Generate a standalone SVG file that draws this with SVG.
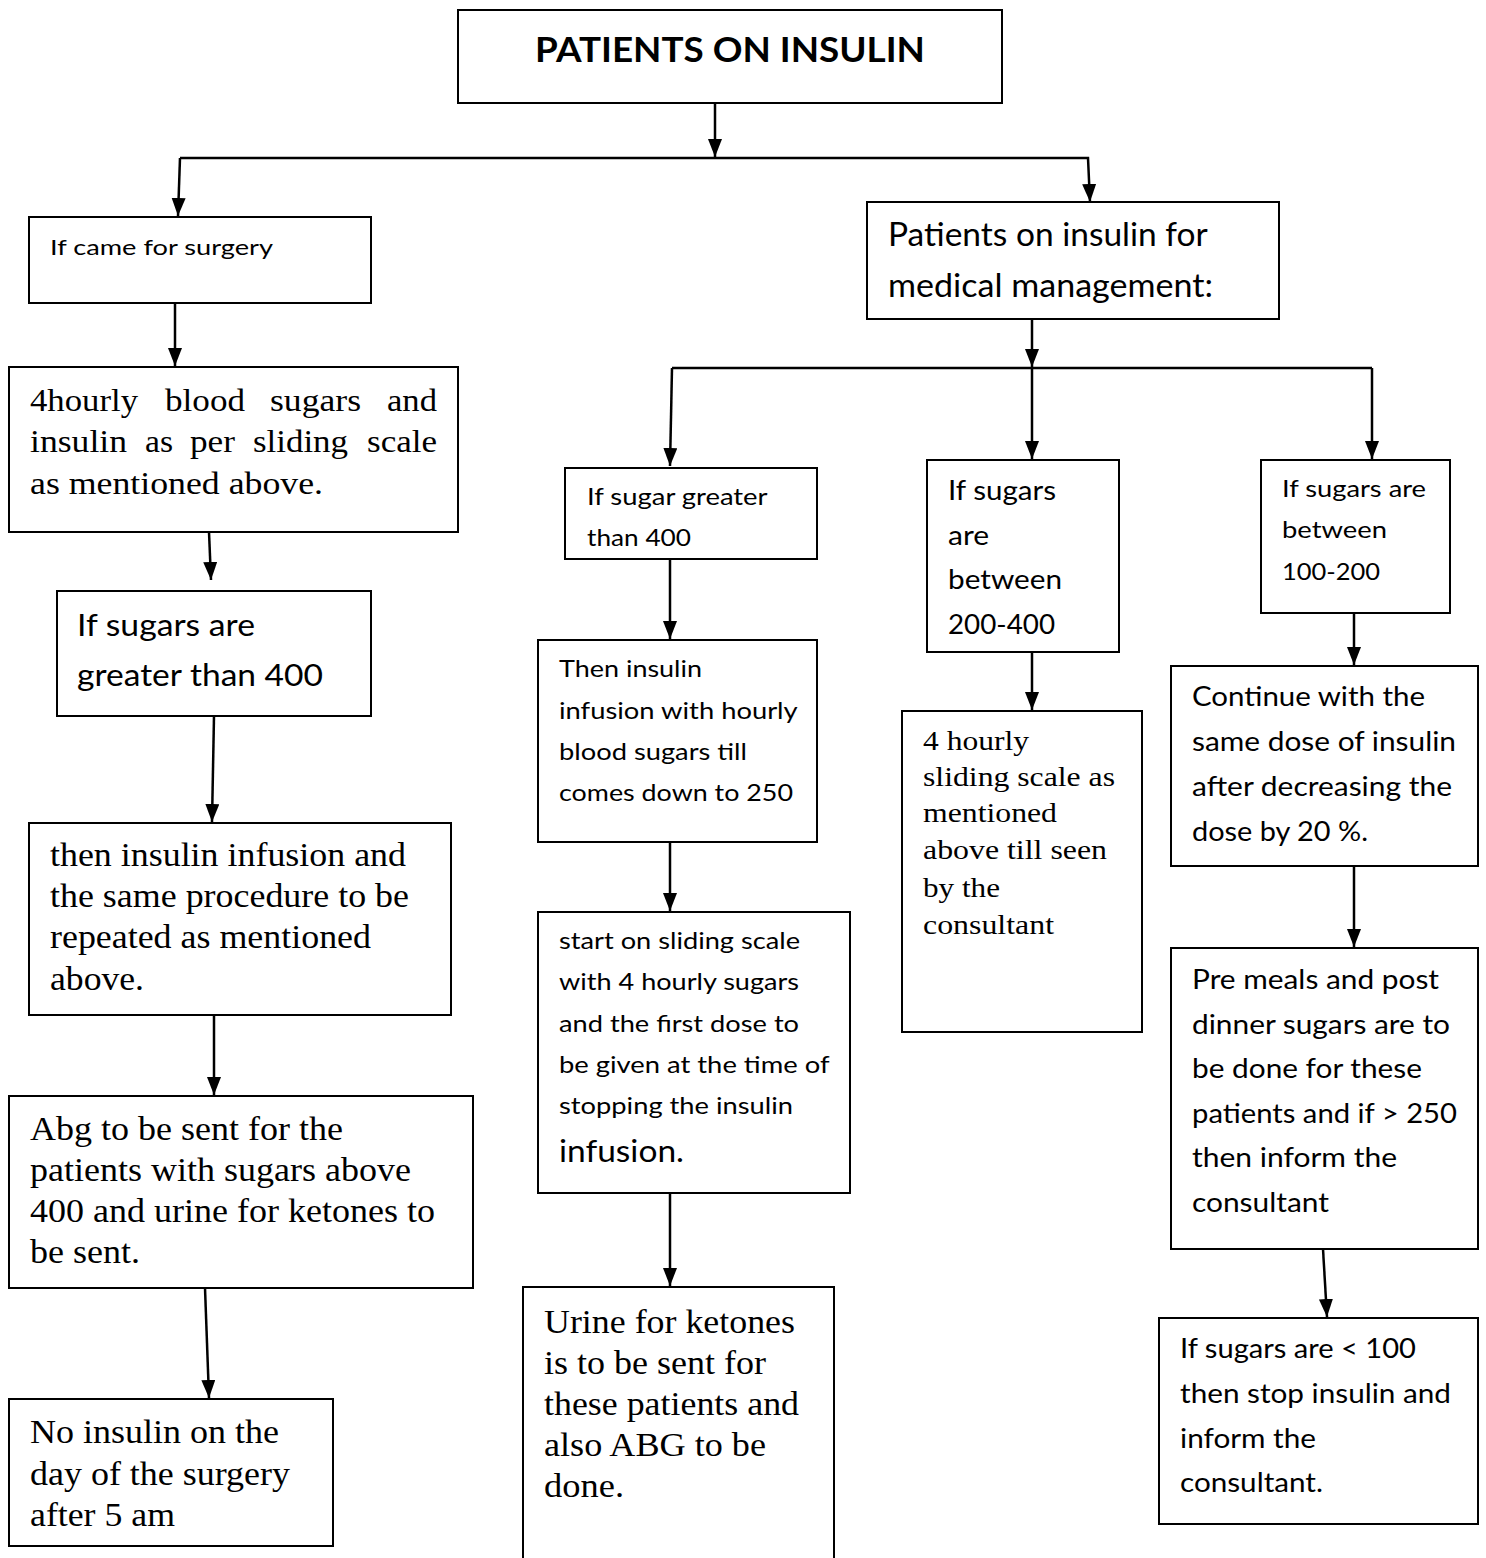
<svg xmlns="http://www.w3.org/2000/svg" width="1486" height="1558" viewBox="0 0 1486 1558">
<style>
.box{fill:#fff;stroke:#000;stroke-width:2}
.c{fill:none;stroke:#000;stroke-width:2.5}
.s{font-family:Lato,"Open Sans","Noto Sans",sans-serif;fill:#000}
.t{font-family:"Liberation Serif","Times New Roman",serif;fill:#000}
</style>
<defs>
<marker id="ah" markerUnits="userSpaceOnUse" markerWidth="20" markerHeight="16" refX="18" refY="7" orient="auto">
<path d="M0,0 L18,7 L0,14 z" fill="#000"/>
</marker>
</defs>
<rect width="1486" height="1558" fill="#fff"/>
<g id="connectors">
<line class="c" x1="715" y1="103" x2="715" y2="157" marker-end="url(#ah)"/>
<polyline class="c" points="180,158 1088,158 1090,202" marker-end="url(#ah)"/>
<line class="c" x1="180" y1="158" x2="178" y2="216" marker-end="url(#ah)"/>
<line class="c" x1="175" y1="303" x2="175" y2="366" marker-end="url(#ah)"/>
<line class="c" x1="209" y1="532" x2="211" y2="580" marker-end="url(#ah)"/>
<line class="c" x1="214" y1="716" x2="212" y2="822" marker-end="url(#ah)"/>
<line class="c" x1="214" y1="1015" x2="214" y2="1095" marker-end="url(#ah)"/>
<line class="c" x1="205" y1="1288" x2="209" y2="1398" marker-end="url(#ah)"/>
<line class="c" x1="1032" y1="319" x2="1032" y2="367" marker-end="url(#ah)"/>
<line class="c" x1="672" y1="368" x2="1372" y2="368"/>
<line class="c" x1="672" y1="368" x2="670" y2="466" marker-end="url(#ah)"/>
<line class="c" x1="1032" y1="368" x2="1032" y2="459" marker-end="url(#ah)"/>
<line class="c" x1="1372" y1="368" x2="1372" y2="459" marker-end="url(#ah)"/>
<line class="c" x1="670" y1="559" x2="670" y2="639" marker-end="url(#ah)"/>
<line class="c" x1="670" y1="842" x2="670" y2="911" marker-end="url(#ah)"/>
<line class="c" x1="670" y1="1193" x2="670" y2="1286" marker-end="url(#ah)"/>
<line class="c" x1="1032" y1="652" x2="1032" y2="710" marker-end="url(#ah)"/>
<line class="c" x1="1354" y1="613" x2="1354" y2="665" marker-end="url(#ah)"/>
<line class="c" x1="1354" y1="866" x2="1354" y2="947" marker-end="url(#ah)"/>
<line class="c" x1="1323" y1="1249" x2="1327" y2="1317" marker-end="url(#ah)"/>
</g>
<g id="n-title">
<rect class="box" x="458" y="10" width="544" height="93"/>
<text class="s" x="535" y="62" font-size="34" font-weight="bold" textLength="390" lengthAdjust="spacingAndGlyphs">PATIENTS ON INSULIN</text>
</g>
<g id="n-surgery">
<rect class="box" x="29" y="217" width="342" height="86"/>
<text class="s" x="50" y="255" font-size="22" textLength="223" lengthAdjust="spacingAndGlyphs">If came for surgery</text>
</g>
<g id="n-4hourly">
<rect class="box" x="9" y="367" width="449" height="165"/>
<text class="t" font-size="32">
<tspan x="30" y="411" textLength="108" lengthAdjust="spacingAndGlyphs">4hourly</tspan>
<tspan x="165" y="411" textLength="80" lengthAdjust="spacingAndGlyphs">blood</tspan>
<tspan x="270" y="411" textLength="91" lengthAdjust="spacingAndGlyphs">sugars</tspan>
<tspan x="387" y="411" textLength="50" lengthAdjust="spacingAndGlyphs">and</tspan>
<tspan x="30" y="452" textLength="97" lengthAdjust="spacingAndGlyphs">insulin</tspan>
<tspan x="145" y="452" textLength="28" lengthAdjust="spacingAndGlyphs">as</tspan>
<tspan x="190" y="452" textLength="45" lengthAdjust="spacingAndGlyphs">per</tspan>
<tspan x="253" y="452" textLength="95" lengthAdjust="spacingAndGlyphs">sliding</tspan>
<tspan x="367" y="452" textLength="70" lengthAdjust="spacingAndGlyphs">scale</tspan>
<tspan x="30" y="494" textLength="293" lengthAdjust="spacingAndGlyphs">as mentioned above.</tspan>
</text>
</g>
<g id="n-gt400-left">
<rect class="box" x="57" y="591" width="314" height="125"/>
<text class="s" font-size="30">
<tspan x="77" y="636" textLength="178" lengthAdjust="spacingAndGlyphs">If sugars are</tspan>
<tspan x="77" y="686" textLength="246" lengthAdjust="spacingAndGlyphs">greater than 400</tspan>
</text>
</g>
<g id="n-infusion-left">
<rect class="box" x="29" y="823" width="422" height="192"/>
<text class="t" font-size="33">
<tspan x="50" y="866" textLength="356" lengthAdjust="spacingAndGlyphs">then insulin infusion and</tspan>
<tspan x="50" y="907" textLength="359" lengthAdjust="spacingAndGlyphs">the same procedure to be</tspan>
<tspan x="50" y="948" textLength="321" lengthAdjust="spacingAndGlyphs">repeated as mentioned</tspan>
<tspan x="50" y="990" textLength="94" lengthAdjust="spacingAndGlyphs">above.</tspan>
</text>
</g>
<g id="n-abg">
<rect class="box" x="9" y="1096" width="464" height="192"/>
<text class="t" font-size="34">
<tspan x="30" y="1140" textLength="313" lengthAdjust="spacingAndGlyphs">Abg to be sent for the</tspan>
<tspan x="30" y="1181" textLength="381" lengthAdjust="spacingAndGlyphs">patients with sugars above</tspan>
<tspan x="30" y="1222" textLength="405" lengthAdjust="spacingAndGlyphs">400 and urine for ketones to</tspan>
<tspan x="30" y="1263" textLength="110" lengthAdjust="spacingAndGlyphs">be sent.</tspan>
</text>
</g>
<g id="n-noinsulin">
<rect class="box" x="9" y="1399" width="324" height="147"/>
<text class="t" font-size="34">
<tspan x="30" y="1443" textLength="249" lengthAdjust="spacingAndGlyphs">No insulin on the</tspan>
<tspan x="30" y="1485" textLength="260" lengthAdjust="spacingAndGlyphs">day of the surgery</tspan>
<tspan x="30" y="1526" textLength="145" lengthAdjust="spacingAndGlyphs">after 5 am</tspan>
</text>
</g>
<g id="n-medical">
<rect class="box" x="867" y="202" width="412" height="117"/>
<text class="s" font-size="32">
<tspan x="888" y="246" textLength="319" lengthAdjust="spacingAndGlyphs">Patients on insulin for</tspan>
<tspan x="888" y="297" textLength="325" lengthAdjust="spacingAndGlyphs">medical management:</tspan>
</text>
</g>
<g id="n-gt400-mid">
<rect class="box" x="565" y="468" width="252" height="91"/>
<text class="s" font-size="24">
<tspan x="587" y="505" textLength="180" lengthAdjust="spacingAndGlyphs">If sugar greater</tspan>
<tspan x="587" y="546" textLength="104" lengthAdjust="spacingAndGlyphs">than 400</tspan>
</text>
</g>
<g id="n-infusion-mid">
<rect class="box" x="538" y="640" width="279" height="202"/>
<text class="s" font-size="24">
<tspan x="559" y="677" textLength="143" lengthAdjust="spacingAndGlyphs">Then insulin</tspan>
<tspan x="559" y="719" textLength="238" lengthAdjust="spacingAndGlyphs">infusion with hourly</tspan>
<tspan x="559" y="760" textLength="188" lengthAdjust="spacingAndGlyphs">blood sugars till</tspan>
<tspan x="559" y="801" textLength="234" lengthAdjust="spacingAndGlyphs">comes down to 250</tspan>
</text>
</g>
<g id="n-sliding-mid">
<rect class="box" x="538" y="912" width="312" height="281"/>
<text class="s" font-size="24">
<tspan x="559" y="949" textLength="241" lengthAdjust="spacingAndGlyphs">start on sliding scale</tspan>
<tspan x="559" y="990" textLength="240" lengthAdjust="spacingAndGlyphs">with 4 hourly sugars</tspan>
<tspan x="559" y="1032" textLength="240" lengthAdjust="spacingAndGlyphs">and the first dose to</tspan>
<tspan x="559" y="1073" textLength="270" lengthAdjust="spacingAndGlyphs">be given at the time of</tspan>
<tspan x="559" y="1114" textLength="234" lengthAdjust="spacingAndGlyphs">stopping the insulin</tspan>
</text>
<text class="s" x="559" y="1162" font-size="31" textLength="125" lengthAdjust="spacingAndGlyphs">infusion.</text>
</g>
<g id="n-urine">
<rect class="box" x="523" y="1287" width="311" height="280"/>
<text class="t" font-size="34">
<tspan x="544" y="1333" textLength="251" lengthAdjust="spacingAndGlyphs">Urine for ketones</tspan>
<tspan x="544" y="1374" textLength="222" lengthAdjust="spacingAndGlyphs">is to be sent for</tspan>
<tspan x="544" y="1415" textLength="255" lengthAdjust="spacingAndGlyphs">these patients and</tspan>
<tspan x="544" y="1456" textLength="222" lengthAdjust="spacingAndGlyphs">also ABG to be</tspan>
<tspan x="544" y="1497" textLength="80" lengthAdjust="spacingAndGlyphs">done.</tspan>
</text>
</g>
<g id="n-200-400">
<rect class="box" x="927" y="460" width="192" height="192"/>
<text class="s" font-size="26">
<tspan x="948" y="500" textLength="108" lengthAdjust="spacingAndGlyphs">If sugars</tspan>
<tspan x="948" y="545" textLength="41" lengthAdjust="spacingAndGlyphs">are</tspan>
<tspan x="948" y="589" textLength="114" lengthAdjust="spacingAndGlyphs">between</tspan>
<tspan x="948" y="634" textLength="107" lengthAdjust="spacingAndGlyphs">200-400</tspan>
</text>
</g>
<g id="n-4hourly-mid">
<rect class="box" x="902" y="711" width="240" height="321"/>
<text class="t" font-size="28">
<tspan x="923" y="750" textLength="106" lengthAdjust="spacingAndGlyphs">4 hourly</tspan>
<tspan x="923" y="786" textLength="192" lengthAdjust="spacingAndGlyphs">sliding scale as</tspan>
<tspan x="923" y="822" textLength="134" lengthAdjust="spacingAndGlyphs">mentioned</tspan>
<tspan x="923" y="859" textLength="184" lengthAdjust="spacingAndGlyphs">above till seen</tspan>
<tspan x="923" y="897" textLength="77" lengthAdjust="spacingAndGlyphs">by the</tspan>
<tspan x="923" y="934" textLength="131" lengthAdjust="spacingAndGlyphs">consultant</tspan>
</text>
</g>
<g id="n-100-200">
<rect class="box" x="1261" y="460" width="189" height="153"/>
<text class="s" font-size="24">
<tspan x="1282" y="497" textLength="144" lengthAdjust="spacingAndGlyphs">If sugars are</tspan>
<tspan x="1282" y="538" textLength="105" lengthAdjust="spacingAndGlyphs">between</tspan>
<tspan x="1282" y="580" textLength="98" lengthAdjust="spacingAndGlyphs">100-200</tspan>
</text>
</g>
<g id="n-continue">
<rect class="box" x="1171" y="666" width="307" height="200"/>
<text class="s" font-size="26">
<tspan x="1192" y="706" textLength="233" lengthAdjust="spacingAndGlyphs">Continue with the</tspan>
<tspan x="1192" y="751" textLength="264" lengthAdjust="spacingAndGlyphs">same dose of insulin</tspan>
<tspan x="1192" y="796" textLength="260" lengthAdjust="spacingAndGlyphs">after decreasing the</tspan>
<tspan x="1192" y="841" textLength="176" lengthAdjust="spacingAndGlyphs">dose by 20 %.</tspan>
</text>
</g>
<g id="n-premeals">
<rect class="box" x="1171" y="948" width="307" height="301"/>
<text class="s" font-size="26">
<tspan x="1192" y="989" textLength="247" lengthAdjust="spacingAndGlyphs">Pre meals and post</tspan>
<tspan x="1192" y="1034" textLength="258" lengthAdjust="spacingAndGlyphs">dinner sugars are to</tspan>
<tspan x="1192" y="1078" textLength="230" lengthAdjust="spacingAndGlyphs">be done for these</tspan>
<tspan x="1192" y="1123" textLength="265" lengthAdjust="spacingAndGlyphs">patients and if &gt; 250</tspan>
<tspan x="1192" y="1167" textLength="205" lengthAdjust="spacingAndGlyphs">then inform the</tspan>
<tspan x="1192" y="1212" textLength="137" lengthAdjust="spacingAndGlyphs">consultant</tspan>
</text>
</g>
<g id="n-lt100">
<rect class="box" x="1159" y="1318" width="319" height="206"/>
<text class="s" font-size="26">
<tspan x="1180" y="1358" textLength="236" lengthAdjust="spacingAndGlyphs">If sugars are &lt; 100</tspan>
<tspan x="1180" y="1403" textLength="271" lengthAdjust="spacingAndGlyphs">then stop insulin and</tspan>
<tspan x="1180" y="1448" textLength="136" lengthAdjust="spacingAndGlyphs">inform the</tspan>
<tspan x="1180" y="1492" textLength="143" lengthAdjust="spacingAndGlyphs">consultant.</tspan>
</text>
</g>
</svg>
